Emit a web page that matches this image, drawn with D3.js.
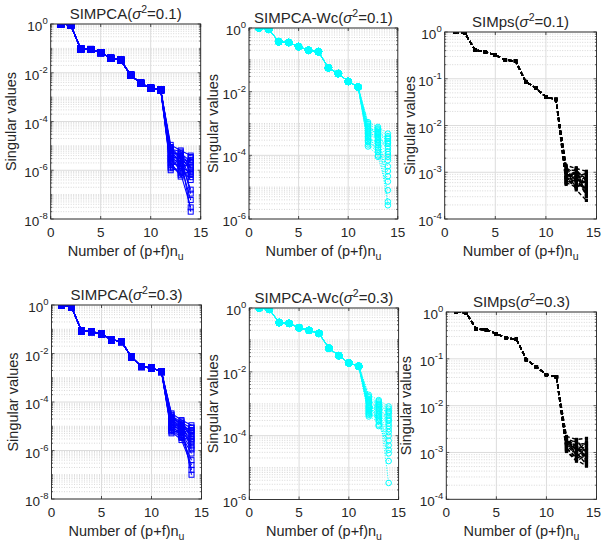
<!DOCTYPE html>
<html><head><meta charset="utf-8">
<script src="https://cdn.jsdelivr.net/npm/d3@7"></script>
<style>
body{margin:0;background:#fff}
text{font-family:"Liberation Sans",Arial,Helvetica,sans-serif;fill:#262626}
</style>
</head><body>
<svg id="c" width="602" height="551"></svg>
<script>
// ---------------- DATA ----------------
const xValues = [1,2,3,4,5,6,7,8,9,10,11,12,13,14];
const xTicks = [0,5,10,15];
const methodNames = ["SIMPCA","SIMPCA-Wc","SIMps","SIMPCA","SIMPCA-Wc","SIMps"];
const sigmaValues = ["0.1","0.1","0.1","0.3","0.3","0.3"];
const yDomains = [[1e-8,1],[1e-6,1],[1e-4,1],[1e-8,1],[1e-6,1],[1e-4,1]];
const yTickExps = [[0,-2,-4,-6,-8],[0,-2,-4,-6],[0,-1,-2,-3,-4],[0,-2,-4,-6,-8],[0,-2,-4,-6],[0,-1,-2,-3,-4]];
const yLabel = "Singular values";
const xLabel = "Number of (p+f)n";
const xLabelSub = "u";

// shared leading singular values (components 1..11)
const headSIMPCA01 = [1, 0.91, 0.095, 0.09, 0.067, 0.039, 0.033, 0.0079, 0.0037, 0.0023, 0.002];
const headWc01     = [1, 0.91, 0.37, 0.35, 0.26, 0.2, 0.18, 0.056, 0.037, 0.021, 0.014];
const headSIMps01  = [1, 0.94, 0.41, 0.38, 0.32, 0.25, 0.24, 0.087, 0.063, 0.041, 0.036];
const headSIMPCA03 = [1, 0.85, 0.085, 0.08, 0.063, 0.037, 0.031, 0.007, 0.0029, 0.0025, 0.0018];
const headWc03     = [1, 0.91, 0.35, 0.33, 0.24, 0.2, 0.16, 0.055, 0.032, 0.019, 0.015];
const headSIMps03  = [1, 0.95, 0.43, 0.42, 0.34, 0.28, 0.26, 0.096, 0.067, 0.046, 0.041];

// per-run trailing singular values (components 12, 13, 14)
const tailSIMPCA01 = [
 [1.1e-5,6.5e-6,4.0e-6],[9.0e-6,3.2e-6,2.1e-6],[7.5e-6,5.8e-6,1.2e-6],[6.2e-6,2.0e-6,3.1e-6],
 [5.1e-6,4.4e-6,8.0e-7],[4.3e-6,1.4e-6,1.7e-6],[3.6e-6,3.0e-6,5.2e-7],[3.0e-6,9.5e-7,2.6e-6],
 [2.5e-6,2.4e-6,1.6e-7],[2.1e-6,5.5e-7,1.0e-6],[1.7e-6,1.8e-6,6.0e-8],[1.4e-6,7.5e-7,3.0e-8],
 [1.2e-6,3.6e-6,2.0e-8],[1.0e-6,1.2e-6,4.0e-7],[8.0e-6,2.7e-6,1.4e-6],[6.8e-6,1.6e-6,7.0e-7],
 [4.7e-6,5.0e-6,2.3e-6],[3.3e-6,1.1e-6,3.5e-6],[2.8e-6,4.0e-6,1.1e-7],[1.9e-6,6.5e-7,9.0e-7]];
const tailWc01 = [
 [1.1e-3,7.8e-4,4.8e-4],[9.5e-4,6.5e-4,4.0e-4],[8.0e-4,5.5e-4,3.3e-4],[7.0e-4,4.6e-4,2.8e-4],
 [6.0e-4,7.0e-4,2.3e-4],[5.2e-4,3.8e-4,1.9e-4],[4.5e-4,3.2e-4,1.6e-4],[3.9e-4,5.0e-4,1.3e-4],
 [3.4e-4,2.6e-4,1.1e-4],[3.0e-4,2.1e-4,9.0e-5],[2.6e-4,1.7e-4,7.0e-5],[2.2e-4,1.3e-4,4.5e-5],
 [1.9e-4,1.0e-4,3.2e-5],[8.5e-4,4.2e-4,2.2e-5],[6.5e-4,2.9e-4,1.5e-5],[5.6e-4,9.0e-5,8.0e-6],
 [4.8e-4,6.0e-4,3.5e-6],[3.6e-4,2.4e-4,2.7e-6],[2.8e-4,1.5e-4,3.6e-4],[1.0e-3,3.5e-4,2.5e-4]];
const tailSIMps01 = [
 [1.4e-3,1.2e-3,1.05e-3],[1.25e-3,9.0e-4,8.5e-4],[1.1e-3,1.1e-3,7.0e-4],[1.0e-3,8.0e-4,9.5e-4],
 [9.2e-4,7.0e-4,6.0e-4],[8.5e-4,1.0e-3,5.2e-4],[7.8e-4,6.2e-4,8.0e-4],[7.2e-4,5.5e-4,4.5e-4],
 [6.6e-4,8.5e-4,3.8e-4],[6.0e-4,4.8e-4,6.5e-4],[5.5e-4,7.5e-4,3.2e-4],[1.2e-3,4.2e-4,2.5e-4],
 [9.8e-4,6.6e-4,5.6e-4],[8.0e-4,9.5e-4,4.0e-4],[7.0e-4,5.0e-4,7.5e-4],[6.3e-4,1.25e-3,3.0e-4],
 [1.3e-3,5.8e-4,4.8e-4],[8.8e-4,7.2e-4,9.0e-4],[7.5e-4,4.5e-4,6.8e-4],[5.8e-4,8.8e-4,3.5e-4]];
const tailSIMPCA03 = [
 [3.4e-5,1.8e-5,1.1e-5],[2.8e-5,1.4e-5,8.5e-6],[2.4e-5,1.1e-5,6.5e-6],[2.0e-5,9.0e-6,5.0e-6],
 [1.7e-5,1.6e-5,4.0e-6],[1.5e-5,7.5e-6,3.0e-6],[1.3e-5,6.0e-6,2.2e-6],[1.1e-5,1.2e-5,1.6e-6],
 [9.5e-6,5.0e-6,1.1e-6],[8.2e-6,4.0e-6,7.5e-7],[7.0e-6,3.3e-6,4.0e-7],[6.0e-6,2.7e-6,2.5e-7],
 [5.1e-6,8.0e-6,1.6e-7],[3.0e-5,1.0e-5,1.0e-7],[2.2e-5,6.8e-6,9.0e-6],[1.8e-5,4.5e-6,6.0e-6],
 [1.4e-5,1.3e-5,3.5e-6],[1.2e-5,3.6e-6,2.6e-6],[9.0e-6,8.5e-6,1.3e-6],[6.5e-6,5.5e-6,7.0e-6]];
const tailWc03 = [
 [1.9e-3,1.3e-3,8.2e-4],[1.6e-3,1.1e-3,7.0e-4],[1.4e-3,9.5e-4,6.0e-4],[1.2e-3,8.0e-4,5.0e-4],
 [1.05e-3,1.2e-3,4.2e-4],[9.2e-4,6.8e-4,3.5e-4],[8.0e-4,5.8e-4,2.9e-4],[7.0e-4,1.0e-3,2.4e-4],
 [6.0e-4,5.0e-4,2.0e-4],[5.2e-4,4.2e-4,1.6e-4],[4.5e-4,3.5e-4,1.3e-4],[4.0e-4,2.8e-4,1.0e-4],
 [1.7e-3,2.2e-4,7.0e-5],[1.3e-3,2.0e-4,5.0e-5],[1.1e-3,7.5e-4,3.6e-5],[8.5e-4,6.2e-4,2.8e-5],
 [7.5e-4,4.6e-4,1.6e-5],[6.5e-4,9.0e-4,3.3e-6],[5.6e-4,3.1e-4,5.5e-4],[4.8e-4,3.8e-4,3.1e-4]];
const tailSIMps03 = [
 [2.2e-3,1.9e-3,2.0e-3],[2.0e-3,1.6e-3,1.5e-3],[1.85e-3,1.4e-3,1.2e-3],[1.7e-3,1.75e-3,1.0e-3],
 [1.6e-3,1.2e-3,8.5e-4],[1.5e-3,1.05e-3,1.7e-3],[1.4e-3,9.0e-4,7.0e-4],[1.3e-3,1.5e-3,6.0e-4],
 [1.2e-3,8.0e-4,1.3e-3],[1.1e-3,7.0e-4,5.1e-4],[1.05e-3,6.5e-4,9.0e-4],[1.9e-3,1.1e-3,1.1e-3],
 [1.75e-3,1.3e-3,7.8e-4],[1.55e-3,9.5e-4,1.4e-3],[1.35e-3,1.65e-3,6.5e-4],[1.25e-3,7.5e-4,9.5e-4],
 [1.15e-3,1.0e-3,5.5e-4],[2.1e-3,8.5e-4,1.15e-3],[1.45e-3,1.25e-3,8.0e-4],[1.65e-3,1.45e-3,1.6e-3]];

const heads = [headSIMPCA01, headWc01, headSIMps01, headSIMPCA03, headWc03, headSIMps03];
const tails = [tailSIMPCA01, tailWc01, tailSIMps01, tailSIMPCA03, tailWc03, tailSIMps03];

// ---------------- LAYOUT / STYLE ----------------
const boxes = [
 {l:50.7, r:200.7, t:24,  b:219, yl:16},
 {l:249,  r:397.8, t:28,  b:219, yl:218},
 {l:444.7,r:596.5, t:32,  b:219, yl:415},
 {l:51.5, r:201.5, t:305, b:499, yl:17.5},
 {l:249.3,r:398.6, t:308, b:499.5, yl:218},
 {l:446.3,r:596.5, t:312, b:499.3, yl:411}
];
const styles = [
 {color:"#0000ff", dash:null,  width:1.1, marker:"square", shift:0},
 {color:"#00ffff", dash:"1,1.5", width:1.0, marker:"circle", shift:0.6},
 {color:"#000000", dash:"4,2.5", width:1.4, marker:"dot", shift:0},
];

const svg = d3.select("#c");

boxes.forEach((bx, p) => {
  const st = styles[p % 3];
  const x = d3.scaleLinear().domain([0,15]).range([bx.l, bx.r]);
  const y = d3.scaleLog().domain(yDomains[p]).range([bx.b, bx.t]);
  const g = svg.append("g");
  const clipId = "clip" + p;
  g.append("clipPath").attr("id", clipId).append("rect")
    .attr("x", bx.l).attr("y", bx.t).attr("width", bx.r - bx.l).attr("height", bx.b - bx.t);

  // grid
  const grid = g.append("g");
  const [lo, hi] = yDomains[p];
  const eLo = Math.round(Math.log10(lo)), eHi = Math.round(Math.log10(hi));
  const majors = yTickExps[p];
  for (let e = eLo; e < eHi; e++) {
    for (let m = 1; m <= 9; m++) {
      if (m === 1 && majors.includes(e)) continue;
      const v = m * Math.pow(10, e);
      grid.append("line").attr("x1", bx.l).attr("x2", bx.r)
        .attr("y1", y(v)).attr("y2", y(v))
        .attr("stroke", "#bdbdbd").attr("stroke-width", 0.6).attr("stroke-dasharray", "1,1.5");
    }
  }
  majors.forEach(e => {
    const v = Math.pow(10, e);
    grid.append("line").attr("x1", bx.l).attr("x2", bx.r).attr("y1", y(v)).attr("y2", y(v))
      .attr("stroke", "#dcdcdc").attr("stroke-width", 1);
  });
  xTicks.forEach(t => {
    grid.append("line").attr("x1", x(t)).attr("x2", x(t)).attr("y1", bx.t).attr("y2", bx.b)
      .attr("stroke", "#dcdcdc").attr("stroke-width", 1);
  });

  // data
  const dataG = g.append("g").attr("clip-path", `url(#${clipId})`);
  const line = d3.line().x(d => x(d[0])).y(d => y(d[1]));
  const runs = tails[p].map(tl => xValues.map((xv, i) => [xv, i < 11 ? heads[p][i] : tl[i - 11], i]));
  runs.forEach((run, k) => {
    dataG.append("path").attr("d", line(run)).attr("fill", "none")
      .attr("stroke", st.color).attr("stroke-width", st.width)
      .attr("stroke-dasharray", st.dash)
      .attr("stroke-dashoffset", k * st.shift);
  });
  runs.forEach(run => {
    run.forEach(d => {
      const cx = x(d[0]), cy = y(d[1]);
      const head = d[2] < 11;
      if (st.marker === "square") {
        const s = head ? 6 : 5;
        dataG.append("rect").attr("x", cx - s/2).attr("y", cy - s/2).attr("width", s).attr("height", s)
          .attr("fill", head ? st.color : "none").attr("stroke", st.color).attr("stroke-width", 1);
      } else if (st.marker === "circle") {
        dataG.append("circle").attr("cx", cx).attr("cy", cy).attr("r", head ? 3.3 : 2.8)
          .attr("fill", head ? st.color : "none").attr("stroke", st.color).attr("stroke-width", 1);
      } else {
        dataG.append("rect").attr("x", cx - 1.6).attr("y", cy - 1.6).attr("width", 3.2).attr("height", 3.2)
          .attr("fill", st.color);
      }
    });
  });

  // box
  const ax = g.append("g");
  ax.append("rect").attr("x", bx.l).attr("y", bx.t).attr("width", bx.r - bx.l).attr("height", bx.b - bx.t)
    .attr("fill", "none").attr("stroke", "#262626").attr("stroke-width", 0.9);
  // x ticks
  xTicks.forEach(t => {
    [[bx.b, -3], [bx.t, 3]].forEach(([yy, dl]) => {
      ax.append("line").attr("x1", x(t)).attr("x2", x(t)).attr("y1", yy).attr("y2", yy + dl)
        .attr("stroke", "#262626").attr("stroke-width", 0.8);
    });
    const lbl = ax.append("text").attr("x", x(t)).attr("y", bx.b + 17.5).attr("text-anchor", "middle")
      .attr("font-size", 13.5).text(t);
    const w = lbl.node().getComputedTextLength();
    if (x(t) + w / 2 > 601) lbl.attr("x", 601 - w / 2);
  });
  // y ticks major/minor
  for (let e = eLo; e <= eHi; e++) {
    for (let m = 1; m <= 9; m++) {
      const v = m * Math.pow(10, e);
      if (v > hi * 1.0001) break;
      const len = (m === 1 && majors.includes(e)) ? 3 : 1.6;
      [[bx.l, len], [bx.r, -len]].forEach(([xx, dl]) => {
        ax.append("line").attr("x1", xx).attr("x2", xx + dl).attr("y1", y(v)).attr("y2", y(v))
          .attr("stroke", "#262626").attr("stroke-width", 0.7);
      });
    }
  }
  majors.forEach(e => {
    const tx = ax.append("text").attr("x", bx.l - 3).attr("y", y(Math.pow(10, e)) + 7)
      .attr("text-anchor", "end").attr("font-size", 13.5);
    tx.append("tspan").text("10");
    tx.append("tspan").attr("font-size", 9.5).attr("dy", -7).text(String(e));
  });

  // title
  const ti = g.append("text").attr("x", (bx.l + bx.r) / 2).attr("y", bx.t - 5)
    .attr("text-anchor", "middle").attr("font-size", 15);
  ti.append("tspan").text(methodNames[p] + "(");
  ti.append("tspan").attr("font-style", "italic").text("σ");
  ti.append("tspan").attr("font-size", 10.5).attr("dy", -6).text("2");
  ti.append("tspan").attr("dy", 6).text("=" + sigmaValues[p] + ")");

  // x label
  const xl = g.append("text").attr("x", (bx.l + bx.r) / 2).attr("y", bx.b + 36.5)
    .attr("text-anchor", "middle").attr("font-size", 14.5);
  xl.append("tspan").text(xLabel);
  xl.append("tspan").attr("font-size", 10.5).attr("dy", 4).text(xLabelSub);

  // y label
  g.append("text").attr("transform", `translate(${bx.yl},${(bx.t + bx.b) / 2}) rotate(-90)`)
    .attr("text-anchor", "middle").attr("font-size", 14.5).text(yLabel);
});
</script>
</body></html>
